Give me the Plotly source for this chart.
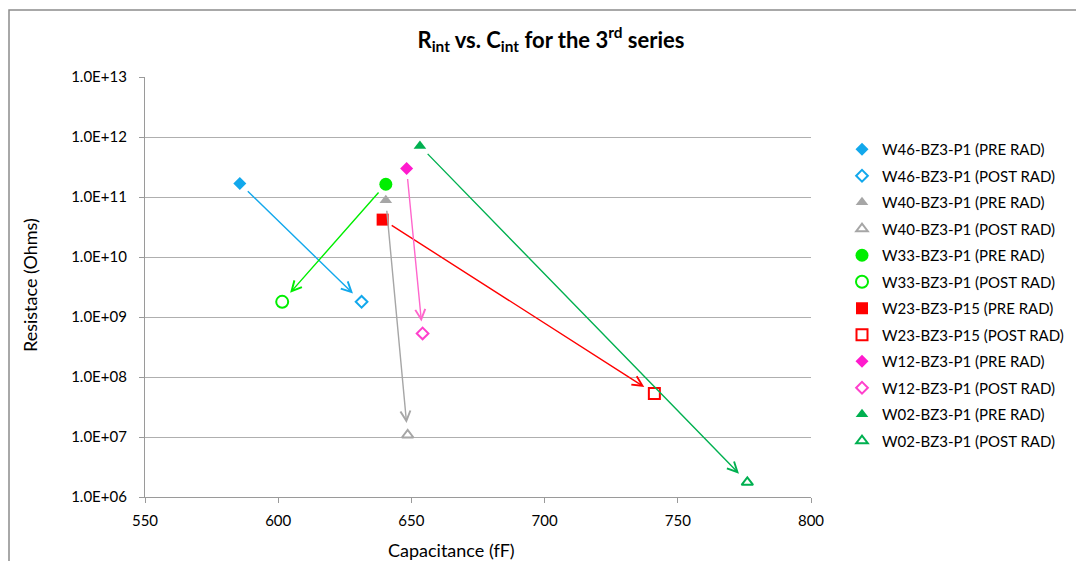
import math
import plotly.graph_objects as go

# ---------------- data ----------------
samples = ["W46-BZ3-P1", "W40-BZ3-P1", "W33-BZ3-P1", "W23-BZ3-P15", "W12-BZ3-P1", "W02-BZ3-P1"]
cap_pre = [585.6, 640.4, 640.4, 639.2, 648.2, 653.2]       # fF
cap_post = [631.3, 648.6, 601.5, 741.2, 654.2, 776.1]      # fF
res_pre = [1.68e11, 8.8e10, 1.63e11, 4.2e10, 2.98e11, 7.1e11]   # Ohms
res_post = [1.79e9, 1.08e7, 1.79e9, 5.33e7, 5.32e8, 1.76e6]     # Ohms

x_ticks = [550, 600, 650, 700, 750, 800]
y_exps = [6, 7, 8, 9, 10, 11, 12, 13]
y_ticktext = ["1.0E+%02d" % e for e in y_exps]

# ---------------- styles ----------------
pre_colors = ["#12A8EC", "#A6A6A6", "#00EE00", "#FF0000", "#FF1ACD", "#00B050"]
post_colors = ["#12A8EC", "#A6A6A6", "#00EE00", "#FF0000", "#FF40CC", "#00B050"]
arrow_colors = ["#12A8EC", "#A6A6A6", "#00EE00", "#FF0000", "#FF66CC", "#00B050"]
pre_symbols = ["diamond", "triangle-up", "circle", "square", "diamond", "triangle-up"]
sizes = [10, 11, 13, 12, 10, 11]

FONT = "Lato"
W, H = 1076, 561
L, R, T, B = 145, 265, 77, 64
pw, ph = W - L - R, H - T - B

fig = go.Figure()
for i, s in enumerate(samples):
    fig.add_trace(go.Scatter(
        x=[cap_pre[i]], y=[res_pre[i]], mode="markers",
        name=f"{s} (PRE RAD)", legendgroup=f"g{2*i}",
        marker=dict(symbol=pre_symbols[i], size=sizes[i], color=pre_colors[i],
                    line=dict(width=0))))
    fig.add_trace(go.Scatter(
        x=[cap_post[i]], y=[res_post[i]], mode="markers",
        name=f"{s} (POST RAD)", legendgroup=f"g{2*i+1}",
        marker=dict(symbol=pre_symbols[i] + "-open", size=sizes[i] - 1,
                    color=post_colors[i], line=dict(width=2, color=post_colors[i]))))

annotations = []
for i in range(len(samples)):
    annotations.append(dict(
        x=cap_post[i], y=math.log10(res_post[i]), xref="x", yref="y",
        ax=cap_pre[i], ay=math.log10(res_pre[i]), axref="x", ayref="y",
        text="", showarrow=True, arrowhead=5, arrowsize=1.4, arrowwidth=1.4,
        arrowcolor=arrow_colors[i], standoff=12, startstandoff=9))

# axis titles
annotations.append(dict(text="Capacitance (fF)", x=(451 - L) / pw, y=(H - B - 550) / ph,
                        xref="paper", yref="paper", showarrow=False,
                        xanchor="center", yanchor="middle",
                        font=dict(family=FONT, size=18, color="#000000")))
annotations.append(dict(text="Resistace (Ohms)", x=(30 - L) / pw, y=(H - B - 285) / ph,
                        xref="paper", yref="paper", showarrow=False, textangle=-90,
                        xanchor="center", yanchor="middle",
                        font=dict(family=FONT, size=18, color="#000000")))

# chart outer border (left and top edges visible)
bx = (9 - L) / pw
by = (H - B - 10) / ph
shapes = [dict(type="path", xref="paper", yref="paper",
               path=f"M {bx} {(H - B - 600) / ph} L {bx} {by} L {(1100 - L) / pw} {by}",
               line=dict(color="#8C8C8C", width=1.5))]

fig.update_layout(
    width=W, height=H,
    margin=dict(l=L, r=R, t=T, b=B, autoexpand=False),
    paper_bgcolor="white", plot_bgcolor="white",
    font=dict(family=FONT, size=14, color="#000000"),
    title=dict(text="R<sub>int</sub> vs. C<sub>int</sub> for the 3<sup>rd</sup> series",
               x=551 / W, xanchor="center", y=1 - 40 / H, yanchor="middle", yref="container",
               font=dict(family=FONT, size=22, color="#000000", weight="bold")),
    xaxis=dict(range=[550, 800], tickvals=x_ticks, showgrid=False, zeroline=False,
               showline=True, linecolor="#9A9A9A", linewidth=1.3,
               ticks="outside", ticklen=5, tickcolor="#9A9A9A", tickwidth=1.3,
               ticklabelstandoff=5, tickfont=dict(family=FONT, size=15)),
    yaxis=dict(type="log", range=[6, 13], tickvals=[10 ** e for e in y_exps], ticktext=y_ticktext,
               showgrid=True, gridcolor="#AFAFAF", gridwidth=1.3, zeroline=False,
               showline=True, linecolor="#9A9A9A", linewidth=1.3,
               ticks="outside", ticklen=5, tickcolor="#9A9A9A", tickwidth=1.3,
               ticklabelstandoff=9, tickfont=dict(family=FONT, size=15)),
    legend=dict(x=(842 - L) / pw, y=(H - B - 133) / ph, xanchor="left", yanchor="top",
                traceorder="grouped", tracegroupgap=4,
                font=dict(family=FONT, size=15), bgcolor="rgba(0,0,0,0)"),
    annotations=annotations,
    shapes=shapes,
    showlegend=True,
)

fig.write_html("out.html", config={"displayModeBar": False},
               post_script="document.body.style.margin='0';document.body.style.overflow='hidden';")
